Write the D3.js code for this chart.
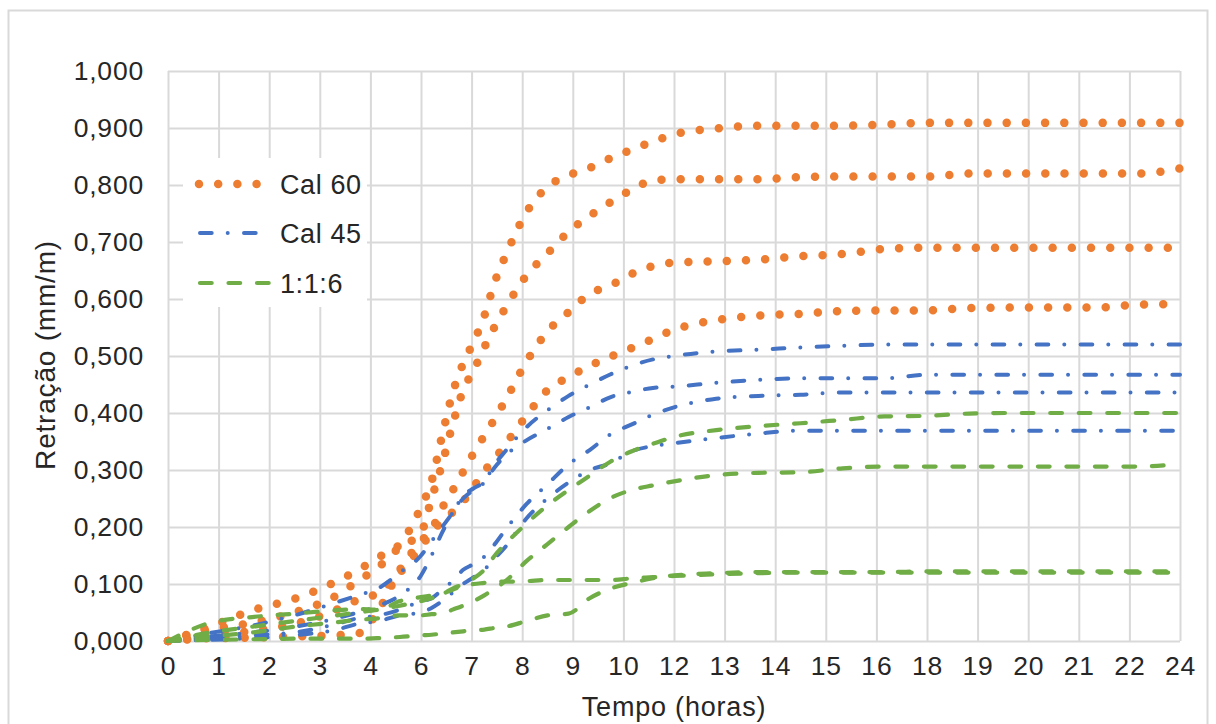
<!DOCTYPE html>
<html>
<head>
<meta charset="utf-8">
<script src="https://cdn.jsdelivr.net/npm/d3@7"></script>
<style>
  body { margin: 0; background: #fff; }
  text { font-family: "Liberation Sans", Arial, sans-serif; fill: #262626; }
</style>
</head>
<body>
<div id="chart"></div>
<script>
// Time (hours) shared by every curve
const hours = [0, 1, 2, 3, 4, 4.5, 5, 5.5, 6, 6.25, 6.5, 6.75, 7, 7.25, 7.5, 7.75, 8, 8.5, 9, 9.5, 10, 10.5, 11, 11.5, 12, 13, 14, 15, 16, 17, 18, 19, 20, 21, 22, 23, 24];

// Cal 60 (four specimens)
const cal60a = [0, .025, .054, .074, .105, .124, .147, .17, .235, .28, .36, .435, .487, .525, .57, .63, .675, .752, .797, .817, .83, .847, .862, .876, .889, .899, .904, .904, .904, .906, .909, .909, .909, .909, .909, .909, .909];
const cal60b = [0, .02, .032, .05, .08, .105, .13, .165, .19, .25, .31, .38, .44, .475, .515, .552, .584, .641, .68, .718, .746, .77, .792, .808, .81, .81, .81, .814, .815, .815, .815, .82, .82, .82, .82, .82, .829];
const cal60c = [0, .005, .006, .008, .01, .013, .055, .125, .175, .195, .233, .264, .297, .33, .36, .39, .422, .49, .543, .577, .609, .624, .644, .658, .664, .666, .669, .675, .679, .688, .69, .69, .69, .69, .69, .69, .69];
const cal60d = [0, .008, .018, .03, .055, .072, .085, .12, .165, .19, .21, .226, .245, .27, .298, .32, .345, .395, .44, .463, .483, .499, .514, .53, .546, .563, .571, .574, .579, .58, .58, .584, .585, .585, .585, .59, .591];

// Cal 45
const cal45a = [0, .014, .027, .045, .068, .08, .093, .12, .15, .175, .2, .225, .255, .268, .28, .31, .333, .375, .405, .43, .45, .468, .483, .494, .5, .508, .511, .515, .518, .52, .52, .52, .52, .52, .52, .52, .52];
const cal45b = [0, .008, .015, .025, .04, .05, .062, .08, .115, .15, .19, .225, .25, .265, .278, .305, .325, .352, .372, .393, .41, .428, .437, .444, .446, .453, .458, .461, .461, .461, .467, .467, .467, .467, .467, .467, .467];
const cal45c = [0, .005, .01, .015, .03, .04, .045, .055, .07, .075, .09, .105, .125, .135, .148, .17, .195, .24, .275, .31, .335, .363, .38, .397, .41, .425, .43, .432, .436, .436, .436, .436, .436, .436, .436, .436, .436];
const cal45d = [0, .002, .005, .01, .02, .03, .035, .045, .05, .058, .07, .085, .1, .112, .125, .145, .165, .215, .25, .278, .3, .312, .333, .342, .347, .356, .364, .369, .369, .369, .369, .369, .369, .369, .369, .369, .369];

// 1:1:6
const t116a = [0, .015, .025, .035, .045, .05, .055, .062, .07, .075, .082, .092, .1, .11, .125, .15, .17, .206, .238, .265, .29, .315, .333, .346, .358, .37, .377, .382, .388, .394, .395, .399, .4, .4, .4, .4, .4];
const t116b = [0, .008, .015, .025, .033, .037, .04, .045, .045, .047, .048, .055, .062, .07, .08, .092, .105, .14, .17, .2, .228, .251, .265, .273, .28, .291, .295, .296, .303, .306, .306, .306, .306, .306, .306, .306, .311];
const t116c = [0, .032, .042, .048, .054, .056, .055, .07, .077, .08, .083, .09, .097, .1, .102, .104, .104, .105, .107, .107, .107, .107, .11, .112, .114, .117, .119, .12, .12, .12, .12, .12, .12, .12, .12, .12, .12];
const t116d = [0, .002, .003, .004, .004, .004, .005, .007, .01, .011, .013, .015, .017, .019, .02, .023, .025, .035, .045, .048, .075, .092, .102, .11, .115, .119, .121, .121, .121, .121, .122, .122, .122, .122, .122, .122, .122];

// Axis ticks (category axis labelled every 1.2 h, shown truncated)
const tickHours = [0, 1.2, 2.4, 3.6, 4.8, 6, 7.2, 8.4, 9.6, 10.8, 12, 13.2, 14.4, 15.6, 16.8, 18, 19.2, 20.4, 21.6, 22.8, 24];
const tickLabels = ["0", "1", "2", "3", "4", "6", "7", "8", "9", "10", "12", "13", "14", "15", "16", "18", "19", "20", "21", "22", "24"];
const yTicks = [0, 0.1, 0.2, 0.3, 0.4, 0.5, 0.6, 0.7, 0.8, 0.9, 1.0];

const groups = [
  { name: "Cal 60", color: "#ED7D31", series: [cal60a, cal60b, cal60c, cal60d] },
  { name: "Cal 45", color: "#4472C4", series: [cal45a, cal45b, cal45c, cal45d] },
  { name: "1:1:6", color: "#70AD47", series: [t116a, t116b, t116c, t116d] }
];

// line styles: round dot, dash-dot, dash
const styles = {
  "Cal 60": { width: 8.5, dash: "0 19.2" },
  "Cal 45": { width: 4, dash: "11.7 16 0 16.3" },
  "1:1:6": { width: 4.2, dash: "11.7 16.8" }
};

const W = 1216, H = 724;
const margin = { top: 71, right: 36, bottom: 83, left: 168 };
const width = W - margin.left - margin.right;
const height = H - margin.top - margin.bottom;

const svg = d3.select("#chart")
  .append("svg")
  .attr("width", W)
  .attr("height", H);

// chart frame
svg.append("rect")
  .attr("x", 8.5).attr("y", 10.5)
  .attr("width", 1199).attr("height", 800)
  .attr("fill", "none")
  .attr("stroke", "#d9d9d9")
  .attr("stroke-width", 2);

const g = svg.append("g")
  .attr("transform", `translate(${margin.left},${margin.top})`);

const x = d3.scaleLinear().domain([0, 24]).range([0, width]);
const y = d3.scaleLinear().domain([0, 1]).range([height, 0]);

const comma = d3.formatLocale({ decimal: ",", thousands: ".", grouping: [3], currency: ["", ""] }).format(".3f");

// Gridlines
g.append("g")
  .attr("class", "grid")
  .attr("transform", `translate(0,${height})`)
  .call(d3.axisBottom(x).tickValues(tickHours).tickSize(-height).tickFormat(""))
  .call(a => a.select(".domain").remove());

g.append("g")
  .attr("class", "grid")
  .call(d3.axisLeft(y).tickValues(yTicks).tickSize(-width).tickFormat(""))
  .call(a => a.select(".domain").remove());

g.selectAll(".grid line")
  .attr("stroke", "#d9d9d9")
  .attr("stroke-width", 2);

// Axes labels
const xAxis = g.append("g")
  .attr("transform", `translate(0,${height})`)
  .call(d3.axisBottom(x).tickValues(tickHours).tickSize(0).tickPadding(15)
    .tickFormat((d, i) => tickLabels[i]));
xAxis.select(".domain").remove();

const yAxis = g.append("g")
  .call(d3.axisLeft(y).tickValues(yTicks).tickSize(0).tickPadding(24).tickFormat(comma));
yAxis.select(".domain").remove();

svg.selectAll(".tick text")
  .attr("font-size", 26.5)
  .attr("letter-spacing", 0.8)
  .attr("font-family", "Liberation Sans, Arial, sans-serif")
  .attr("fill", "#262626");

// Curves
const line = d3.line()
  .x((d, i) => x(hours[i]))
  .y(d => y(d))
  .curve(d3.curveMonotoneX);

groups.forEach(grp => {
  const st = styles[grp.name];
  g.selectAll(null)
    .data(grp.series)
    .enter()
    .append("path")
    .attr("d", line)
    .attr("fill", "none")
    .attr("stroke", grp.color)
    .attr("stroke-width", st.width)
    .attr("stroke-dasharray", st.dash)
    .attr("stroke-linecap", "round")
    .attr("stroke-linejoin", "round");
});

// Legend
const legend = svg.append("g");
legend.append("rect")
  .attr("x", 183).attr("y", 158)
  .attr("width", 184).attr("height", 149)
  .attr("fill", "#fff");

const legendY = [184, 233, 283];
const legendEnd = { "Cal 60": 262, "Cal 45": 256, "1:1:6": 269 };
groups.forEach((grp, i) => {
  const st = styles[grp.name];
  legend.append("line")
    .attr("x1", grp.name === "Cal 60" ? 199 : 200)
    .attr("x2", legendEnd[grp.name])
    .attr("y1", legendY[i]).attr("y2", legendY[i])
    .attr("stroke", grp.color)
    .attr("stroke-width", st.width)
    .attr("stroke-dasharray", st.dash)
    .attr("stroke-linecap", "round");
  legend.append("text")
    .attr("x", 280)
    .attr("y", legendY[i])
    .attr("dy", "0.36em")
    .attr("font-size", 27)
    .attr("letter-spacing", 0.6)
    .text(grp.name);
});

// Axis titles
svg.append("text")
  .attr("x", margin.left + width / 2)
  .attr("y", 716)
  .attr("text-anchor", "middle")
  .attr("font-size", 27)
  .attr("letter-spacing", 0.8)
  .text("Tempo (horas)");

svg.append("text")
  .attr("transform", "rotate(-90)")
  .attr("x", -355)
  .attr("y", 55)
  .attr("text-anchor", "middle")
  .attr("font-size", 28)
  .attr("letter-spacing", 0.8)
  .text("Retração (mm/m)");
</script>
</body>
</html>
